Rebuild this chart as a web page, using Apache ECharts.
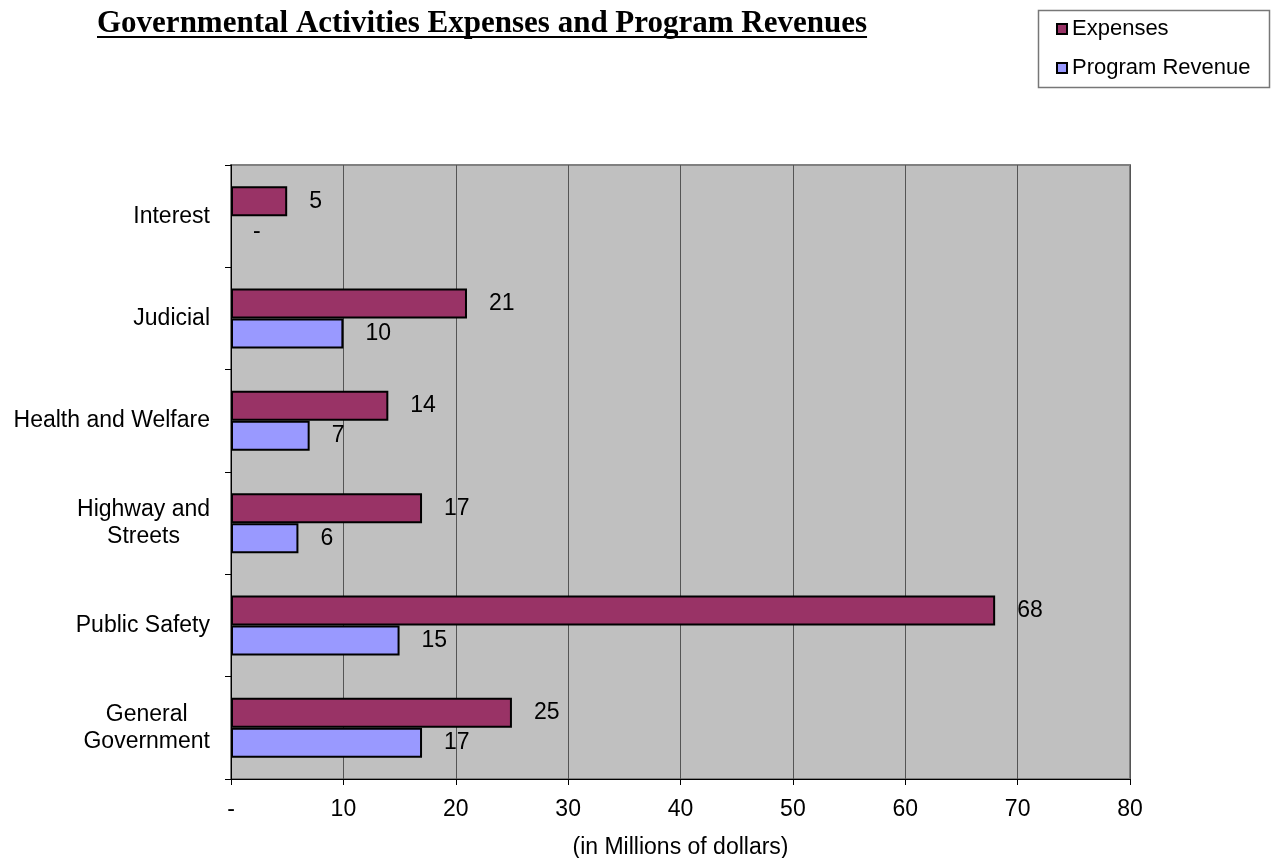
<!DOCTYPE html>
<html>
<head>
<meta charset="utf-8">
<script src="https://cdn.jsdelivr.net/npm/echarts@6/dist/echarts.min.js"></script>
<style>html,body{margin:0;padding:0;background:#fff;}#chart{width:1273px;height:858px;}</style>
</head>
<body>
<div id="chart"></div>
<script>
const titleText = 'Governmental Activities Expenses and Program Revenues';
const categories = ['General\nGovernment', 'Public Safety', 'Highway and\nStreets', 'Health and Welfare', 'Judicial', 'Interest'];
const expenses = [25, 68, 17, 14, 21, 5];
const programRevenue = [17, 15, 6, 7, 10, 0];
const xTicks = { min: 0, max: 80, interval: 10 };
const seriesNames = ['Expenses', 'Program Revenue'];

const FONT = "Arial, 'Liberation Sans', sans-serif";
const TITLE_SIZE = 31;
const TITLE_FONT = "bold " + TITLE_SIZE + "px 'Liberation Serif', 'Times New Roman', serif";
const titleLeft = 97, titleTop = 8;
const AX = 23;

// measure the title for the underline
const mctx = document.createElement('canvas').getContext('2d');
mctx.font = TITLE_FONT;
const titleW = mctx.measureText(titleText).width;

const chart = echarts.init(document.getElementById('chart'), null, { renderer: 'canvas' });

const labelFmt = p => (p.value === 0 ? '-' : String(p.value));
const barLabel = {
  show: true, position: 'right', distance: 22,
  fontFamily: FONT, fontSize: AX, color: '#000', formatter: labelFmt
};
// zero-length bars get no outline (nothing is drawn in the original)
const toItems = arr => arr.map(v => (v === 0 ? { value: v, itemStyle: { borderWidth: 0 } } : v));

chart.setOption({
  animation: false,
  backgroundColor: '#ffffff',
  title: {
    text: titleText, left: titleLeft, top: titleTop, padding: 0,
    textStyle: { fontFamily: "'Liberation Serif', 'Times New Roman', serif", fontWeight: 'bold', fontSize: TITLE_SIZE, color: '#000' }
  },
  graphic: [
    { type: 'line', shape: { x1: titleLeft, y1: 37, x2: titleLeft + titleW, y2: 37 }, style: { stroke: '#000', lineWidth: 2 } },
    { type: 'rect', shape: { x: 1038.5, y: 10.5, width: 231, height: 77 }, style: { fill: 'none', stroke: '#777', lineWidth: 1.5 }, z: 1 }
  ],
  legend: {
    data: seriesNames, orient: 'vertical', left: 1056, top: 18, padding: 0,
    itemWidth: 10, itemHeight: 10, itemGap: 17, icon: 'rect',
    textStyle: { fontFamily: FONT, fontSize: 22, color: '#000' }
  },
  grid: {
    left: 231, right: 143, top: 165, bottom: 79, containLabel: false,
    outerBoundsMode: 'none',
    show: true, backgroundColor: '#C0C0C0', borderColor: '#808080', borderWidth: 2
  },
  xAxis: {
    type: 'value', min: xTicks.min, max: xTicks.max, interval: xTicks.interval,
    name: '(in Millions of dollars)', nameLocation: 'middle', nameGap: 57,
    nameTextStyle: { fontFamily: FONT, fontSize: AX, color: '#000' },
    axisLine: { show: true, lineStyle: { color: '#000', width: 1 } },
    axisTick: { show: true, length: 6, lineStyle: { color: '#000' } },
    axisLabel: { fontFamily: FONT, fontSize: AX, color: '#000', margin: 19,
      formatter: v => (v === 0 ? '-' : String(v)) },
    splitLine: { show: true, lineStyle: { color: '#555', width: 1 } }
  },
  yAxis: {
    type: 'category', data: categories,
    axisLine: { show: true, lineStyle: { color: '#000', width: 1 } },
    axisTick: { show: true, length: 6, lineStyle: { color: '#000' } },
    axisLabel: {
      fontFamily: FONT, fontSize: AX, color: '#000', margin: 21, align: 'right',
      formatter: v => v.split('\n').map(l => '{c|' + l + '}').join('\n'),
      rich: { c: { fontFamily: FONT, fontSize: AX, color: '#000', align: 'center', lineHeight: 27 } }
    },
    splitLine: { show: false }
  },
  series: [
    {
      name: seriesNames[0], type: 'bar', data: toItems(expenses),
      barWidth: 30, barGap: '0%',
      itemStyle: { color: '#993366', borderColor: '#000', borderWidth: 2 },
      label: barLabel
    },
    {
      name: seriesNames[1], type: 'bar', data: toItems(programRevenue),
      barWidth: 30, barGap: '0%',
      itemStyle: { color: '#9999FF', borderColor: '#000', borderWidth: 2 },
      label: barLabel
    }
  ]
});
</script>
</body>
</html>
